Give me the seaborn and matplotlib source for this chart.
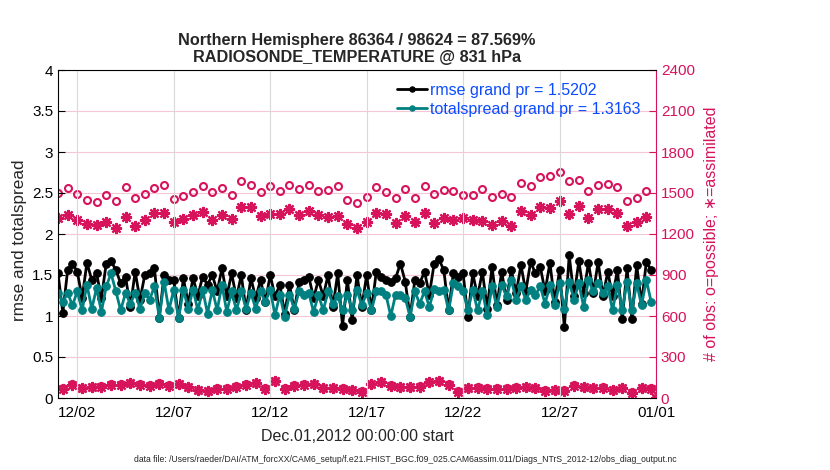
# Evolución temporal de rmse / totalspread - RADIOSONDE_TEMPERATURE @ 831 hPa
import pandas as pd
import numpy as np
import seaborn as sb
import matplotlib.pyplot as plt
import matplotlib.dates as mdates
from matplotlib.ticker import FormatStrFormatter

# ==========================================
# DATOS
# ==========================================

# rmse y totalspread cada 6 horas, desde 12/01 00Z hasta 12/31 18Z
rmse = [1.52, 1.04, 1.56, 1.64, 1.54, 1.22, 1.65, 1.44, 1.52, 1.22,
        1.64, 1.67, 1.56, 1.40, 1.48, 1.11, 1.54, 1.20, 1.50, 1.52,
        1.58, 0.98, 1.50, 1.44, 1.44, 0.97, 1.46, 1.15, 1.46, 1.25,
        1.48, 1.38, 1.50, 1.30, 1.58, 1.24, 1.52, 1.22, 1.50, 1.07,
        1.46, 1.22, 1.44, 1.17, 1.50, 1.24, 1.38, 1.03, 1.38, 1.07,
        1.42, 1.44, 1.48, 1.22, 1.44, 1.24, 1.50, 1.11, 1.52, 0.88,
        1.44, 0.95, 1.50, 1.11, 1.50, 1.07, 1.54, 1.48, 1.44, 1.42,
        1.46, 1.64, 1.42, 0.99, 1.44, 1.40, 1.54, 1.26, 1.64, 1.69,
        1.56, 1.07, 1.53, 1.48, 1.52, 0.99, 1.52, 1.24, 1.54, 1.09,
        1.60, 1.13, 1.54, 1.20, 1.56, 1.28, 1.62, 1.30, 1.66, 1.52,
        1.60, 1.30, 1.65, 1.17, 1.56, 0.86, 1.74, 1.24, 1.67, 1.28,
        1.65, 1.28, 1.66, 1.24, 1.54, 1.24, 1.56, 0.96, 1.58, 0.96,
        1.62, 1.15, 1.66, 1.56]

totalspread = [1.28, 1.17, 1.28, 1.13, 1.30, 1.07, 1.38, 1.09, 1.34, 1.05,
               1.36, 1.52, 1.30, 1.07, 1.28, 1.15, 1.28, 1.09, 1.28, 1.20,
               1.36, 0.98, 1.42, 1.07, 1.32, 0.97, 1.32, 1.09, 1.32, 1.07,
               1.32, 1.03, 1.32, 1.07, 1.38, 1.05, 1.30, 1.07, 1.30, 1.09,
               1.28, 1.09, 1.30, 1.17, 1.32, 1.01, 1.26, 0.99, 1.26, 1.09,
               1.30, 1.26, 1.28, 1.05, 1.26, 1.07, 1.30, 1.15, 1.24, 1.07,
               1.26, 1.07, 1.32, 1.13, 1.28, 1.07, 1.30, 1.30, 1.26, 1.00,
               1.26, 1.26, 1.22, 0.99, 1.30, 1.15, 1.30, 1.11, 1.33, 1.30,
               1.32, 1.07, 1.40, 1.36, 1.30, 1.07, 1.32, 1.07, 1.30, 1.01,
               1.36, 1.11, 1.38, 1.24, 1.44, 1.20, 1.36, 1.20, 1.32, 1.26,
               1.36, 1.15, 1.38, 1.13, 1.40, 1.09, 1.42, 1.20, 1.40, 1.11,
               1.44, 1.30, 1.40, 1.28, 1.36, 1.07, 1.38, 1.07, 1.42, 1.07,
               1.40, 1.13, 1.44, 1.17]

# número de observaciones en 00Z/12Z (12/01 00Z ... 01/01 00Z)
posibles_00_12 = [1500, 1537, 1493, 1449, 1434, 1485, 1441, 1544, 1463, 1493,
                  1537, 1559, 1456, 1480, 1507, 1554, 1507, 1537, 1485, 1585,
                  1559, 1507, 1554, 1515, 1559, 1529, 1559, 1515, 1522, 1554,
                  1449, 1427, 1471, 1544, 1507, 1463, 1529, 1463, 1554, 1493,
                  1522, 1515, 1485, 1485, 1529, 1471, 1493, 1471, 1573, 1554,
                  1617, 1624, 1654, 1588, 1593, 1515, 1559, 1566, 1544, 1441,
                  1463, 1515, 0]

asimiladas_00_12 = [1314, 1341, 1300, 1273, 1266, 1290, 1244, 1324, 1261, 1300,
                    1354, 1354, 1288, 1307, 1339, 1361, 1305, 1339, 1310, 1398,
                    1398, 1329, 1346, 1346, 1383, 1339, 1368, 1337, 1324, 1334,
                    1273, 1244, 1290, 1354, 1346, 1280, 1329, 1288, 1354, 1280,
                    1317, 1305, 1314, 1302, 1297, 1263, 1297, 1258, 1368, 1341,
                    1395, 1388, 1441, 1346, 1407, 1317, 1383, 1383, 1354, 1258,
                    1288, 1322, 0]

# número de observaciones en 06Z/18Z (12/01 06Z ... 12/31 18Z)
posibles_06_18 = [70, 100, 75, 82, 88, 100, 100, 112, 100, 95,
                  108, 95, 106, 82, 62, 54, 70, 70, 88, 100,
                  112, 70, 125, 70, 95, 100, 106, 75, 75, 70,
                  62, 49, 106, 120, 95, 82, 82, 88, 120, 125,
                  100, 49, 75, 80, 70, 70, 70, 80, 82, 75,
                  57, 62, 57, 95, 82, 75, 80, 62, 75, 44,
                  75, 70]

asimiladas_06_18 = [66, 96, 71, 78, 83, 96, 96, 108, 96, 91,
                    103, 91, 101, 78, 58, 50, 66, 66, 83, 96,
                    108, 66, 121, 66, 91, 96, 101, 71, 71, 66,
                    58, 45, 101, 116, 91, 78, 78, 83, 116, 121,
                    96, 45, 71, 76, 66, 66, 66, 76, 78, 71,
                    53, 58, 53, 91, 78, 71, 76, 58, 71, 40,
                    71, 66]

etiquetas_x = ["12/02", "12/07", "12/12", "12/17", "12/22", "12/27", "01/01"]

tiempo_6h = pd.date_range("2012-12-01 00:00", periods=len(rmse), freq="6h")
tiempo_00_12 = pd.date_range("2012-12-01 00:00", periods=len(posibles_00_12), freq="12h")
tiempo_06_18 = pd.date_range("2012-12-01 06:00", periods=len(posibles_06_18), freq="12h")
ticks_x = pd.date_range("2012-12-02", periods=len(etiquetas_x), freq="5D")

# ==========================================
# FIGURA
# ==========================================

sb.set_style("white")
plt.rcParams["font.family"] = ["Liberation Sans", "DejaVu Sans"]

rojo = "#D6135B"
verde = "#008080"
azul = "#0A4BFF"

fig = plt.figure(figsize=(8.3, 4.7), dpi=100)
ax = fig.add_axes([58 / 830, 1 - 398 / 470, 598 / 830, 328 / 470])
ax2 = ax.twinx()
ax.set_zorder(ax2.get_zorder() + 1)
ax.patch.set_visible(False)

# observaciones (eje derecho)
sb.lineplot(x=tiempo_00_12, y=posibles_00_12, ax=ax2, linestyle="", marker="o",
            markersize=5, markerfacecolor="none", markeredgecolor=rojo,
            markeredgewidth=1.5, legend=False)
sb.lineplot(x=tiempo_06_18, y=posibles_06_18, ax=ax2, linestyle="", marker="o",
            markersize=5, markerfacecolor="none", markeredgecolor=rojo,
            markeredgewidth=1.5, legend=False)
sb.lineplot(x=tiempo_00_12, y=asimiladas_00_12, ax=ax2, linestyle="", marker=(8, 2, 0),
            markersize=8, markeredgecolor=rojo, markeredgewidth=1.6, legend=False)
sb.lineplot(x=tiempo_06_18, y=asimiladas_06_18, ax=ax2, linestyle="", marker=(8, 2, 0),
            markersize=8, markeredgecolor=rojo, markeredgewidth=1.6, legend=False)

# rmse y totalspread (eje izquierdo)
sb.lineplot(x=tiempo_6h, y=rmse, ax=ax, color="black", linewidth=2, marker="o",
            markersize=5.5, markeredgecolor="black", label="rmse grand pr = 1.5202")
sb.lineplot(x=tiempo_6h, y=totalspread, ax=ax, color=verde, linewidth=2, marker="o",
            markersize=5.5, markeredgecolor=verde, label="totalspread grand pr = 1.3163")

# ejes
ax.set_xlim(pd.Timestamp("2012-12-01"), pd.Timestamp("2013-01-01"))
ax.set_ylim(0, 4)
ax.set_yticks(np.arange(0, 4.01, 0.5))
ax.yaxis.set_major_formatter(FormatStrFormatter("%g"))
ax.set_xticks(ticks_x)
ax.set_xticklabels(etiquetas_x)
ax2.set_ylim(0, 2400)
ax2.set_yticks(range(0, 2401, 300))

ax.tick_params(axis="both", direction="in", length=5, labelsize=11, colors="black")
ax.tick_params(axis="x", pad=6)
ax2.tick_params(axis="y", direction="in", length=5, labelsize=11, colors=rojo)

ax.grid(axis="x", color="#D9D9D9", linewidth=0.8)
ax.grid(axis="y", visible=False)
ax2.grid(axis="y", color="#F4C6D6", linewidth=0.8)
ax2.grid(axis="x", visible=False)

for lado in ["top", "left", "bottom"]:
    ax.spines[lado].set_color("black")
    ax.spines[lado].set_linewidth(0.8)
    ax2.spines[lado].set_visible(False)
ax.spines["right"].set_visible(False)
ax2.spines["right"].set_color(rojo)
ax2.spines["right"].set_linewidth(0.8)

ax.set_xlabel("Dec.01,2012 00:00:00 start", fontsize=11.5, labelpad=6)
ax.set_ylabel("rmse and totalspread", fontsize=12.3)
ax.yaxis.set_label_coords(-0.052, 0.48)
ax2.set_ylabel("# of obs: o=possible; \u2217=assimilated", fontsize=11.5, color=rojo)
ax2.yaxis.set_label_coords(1.08, 0.5)

ax.set_title("Northern Hemisphere 86364 / 98624 = 87.569%\nRADIOSONDE_TEMPERATURE @ 831 hPa",
             fontsize=11.7, fontweight="bold", pad=6, linespacing=1.15)

ax.legend(loc="upper left", bbox_to_anchor=(397 / 830, 1 - 83 / 470),
          bbox_transform=fig.transFigure, frameon=False, fontsize=11.5,
          labelcolor=azul, handlelength=1.9, handletextpad=0.15,
          borderpad=0, borderaxespad=0, labelspacing=0.25, markerscale=0.7)

fig.text(405 / 830, 1 - 459 / 470,
         "data file: /Users/raeder/DAI/ATM_forcXX/CAM6_setup/f.e21.FHIST_BGC.f09_025.CAM6assim.011/Diags_NTrS_2012-12/obs_diag_output.nc",
         ha="center", va="center", fontsize=6.2)

plt.savefig("out.png", dpi=100)
plt.close()
